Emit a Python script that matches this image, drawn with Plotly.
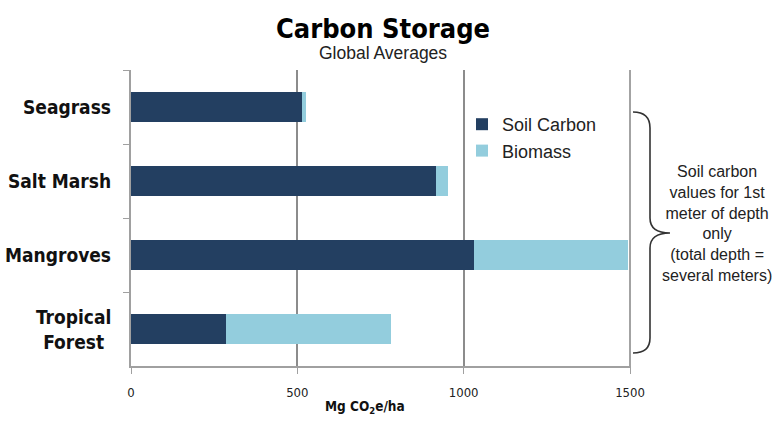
import plotly.graph_objects as go

# Global average carbon stocks by ecosystem (Mg CO2e/ha)
ecosystems = ["Seagrass", "Salt Marsh", "Mangroves", "Tropical Forest"]
ecosystem_labels = ["Seagrass", "Salt Marsh", "Mangroves", "Tropical<br>Forest"]
soil_carbon = [515, 917, 1030, 287]
biomass = [10, 35, 464, 495]
x_ticks = [0, 500, 1000, 1500]

DARK = "#233F61"
LIGHT = "#93CDDD"
GRID = "#8C8C8C"
AXIS = "#A0A0A0"
COND = "DejaVu Sans Condensed, DejaVu Sans, sans-serif"
ARIAL = "Liberation Sans, Arial, sans-serif"

W, H = 780, 423
L, R, T, B = 131, 149, 70, 57
PW, PH = W - L - R, H - T - B


def px(x):
    return (x - L) / PW


def py(y):
    return (H - B - y) / PH


fig = go.Figure()
fig.add_trace(go.Bar(
    y=ecosystems, x=soil_carbon, name="Soil Carbon", orientation="h",
    marker=dict(color=DARK, line=dict(width=0)),
))
fig.add_trace(go.Bar(
    y=ecosystems, x=biomass, name="Biomass", orientation="h",
    marker=dict(color=LIGHT, line=dict(width=0)),
))

annotations = [
    dict(text="<b>Carbon Storage</b>", x=px(383), y=py(28), xref="paper", yref="paper",
         showarrow=False, xanchor="center", yanchor="middle",
         font=dict(family=COND, size=27, color="#000")),
    dict(text="Global Averages", x=px(383), y=py(53), xref="paper", yref="paper",
         showarrow=False, xanchor="center", yanchor="middle",
         font=dict(family=ARIAL, size=17.5, color="#222")),
    dict(text="<b>Mg CO<sub>2</sub>e/ha</b>", x=px(365), y=py(407), xref="paper", yref="paper",
         showarrow=False, xanchor="center", yanchor="middle",
         font=dict(family=COND, size=13.5, color="#111")),
    dict(text="Soil carbon<br>values for 1st<br>meter of depth<br>only<br>(total depth =<br>several meters)",
         x=px(717), y=py(223), xref="paper", yref="paper",
         showarrow=False, xanchor="center", yanchor="middle", align="center",
         font=dict(family=ARIAL, size=16, color="#222")),
]
for cat, lab in zip(ecosystems, ecosystem_labels):
    annotations.append(dict(
        text=f"<b>{lab}</b>", x=px(113), y=cat, xref="paper", yref="y",
        showarrow=False, xanchor="right", yanchor="middle", align="center",
        font=dict(family=COND, size=19, color="#111"),
    ))

# curly brace to the right of the plot area
bx0, bx1, tip = px(633), px(650), px(670)
path = (
    f"M {bx0},{py(112)} Q {bx1},{py(112)} {bx1},{py(128)} "
    f"L {bx1},{py(218)} Q {bx1},{py(233)} {tip},{py(233)} "
    f"Q {bx1},{py(233)} {bx1},{py(248)} "
    f"L {bx1},{py(338)} Q {bx1},{py(353)} {bx0},{py(353)}"
)
shapes = [
    dict(type="path", path=path, xref="paper", yref="paper",
         line=dict(color="#333", width=1.6)),
    # gridline at the last tick, which sits on the plot's right edge
    dict(type="line", xref="x", yref="paper", x0=x_ticks[-1], x1=x_ticks[-1], y0=0, y1=1,
         line=dict(color=GRID, width=1.6), layer="below"),
]

fig.update_layout(
    width=W, height=H,
    margin=dict(l=L, r=R, t=T, b=B, pad=0),
    paper_bgcolor="white", plot_bgcolor="white",
    barmode="stack", bargap=0.6,
    showlegend=True,
    legend=dict(x=px(462), y=py(106), xanchor="left", yanchor="top",
                traceorder="normal", bgcolor="rgba(0,0,0,0)",
                font=dict(family=ARIAL, size=18, color="#222"),
                itemwidth=30, tracegroupgap=0),
    annotations=annotations,
    shapes=shapes,
    xaxis=dict(range=[0, 1503], tickvals=x_ticks, ticktext=[str(v) for v in x_ticks],
               showgrid=True, gridcolor=GRID, gridwidth=1.6,
               showline=True, linecolor=AXIS, linewidth=1.6,
               ticks="outside", ticklen=6, tickcolor=AXIS, tickwidth=1.4,
               ticklabelstandoff=8,
               zeroline=False, fixedrange=True,
               tickfont=dict(family=COND, size=13, color="#222")),
    yaxis=dict(autorange="reversed", showticklabels=False,
               showgrid=False, zeroline=False,
               showline=True, linecolor=AXIS, linewidth=1.6,
               ticks="outside", ticklen=6, tickcolor=AXIS, tickwidth=1.4,
               tickson="boundaries", fixedrange=True),
)

fig.write_html("out.html")
